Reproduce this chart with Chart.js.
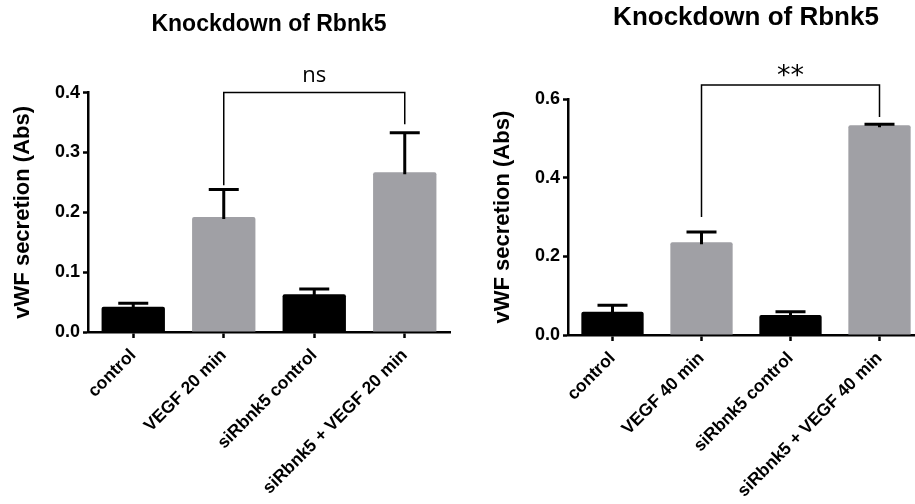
<!DOCTYPE html>
<html>
<head>
<meta charset="utf-8">
<script src="https://cdn.jsdelivr.net/npm/chart.js@4.4.1/dist/chart.umd.min.js"></script>
<style>
  html, body { margin: 0; padding: 0; background: #fff; }
  #wrap { position: relative; width: 915px; height: 504px; overflow: hidden; }
  #c20 { position: absolute; left: 0; top: 0; }
  #c40 { position: absolute; left: 460px; top: 0; }
</style>
</head>
<body>
<div id="wrap">
  <canvas id="c20" width="460" height="504"></canvas>
  <canvas id="c40" width="475" height="504"></canvas>
</div>
<script>
// data
const labels20 = ['control', 'VEGF 20 min', 'siRbnk5 control', 'siRbnk5 + VEGF 20 min'];
const means20 = [0.042, 0.192, 0.063, 0.267];
const sem20 = [0.006, 0.046, 0.009, 0.066];
const ticks20 = [0, 0.1, 0.2, 0.3, 0.4];

const labels40 = ['control', 'VEGF 40 min', 'siRbnk5 control', 'siRbnk5 + VEGF 40 min'];
const means40 = [0.059, 0.236, 0.051, 0.534];
const sem40 = [0.017, 0.026, 0.008, 0.002];
const ticks40 = [0, 0.2, 0.4, 0.6];

const barColors = ['#000000', '#a0a0a5', '#000000', '#a0a0a5'];

// significance bracket: [from bar, to bar, height, left leg end, right leg end, label]
const bracket20 = [1, 3, 0.4, 0.245, 0.347, 'ns'];
const bracket40 = [1, 3, 0.636, 0.300, 0.555, '**'];

const FONT = 'Arial, "Liberation Sans", Helvetica, sans-serif';

// error bars + bracket, drawn through the y scale
const annotate = {
  id: 'annotate',
  afterDatasetsDraw(chart, args, opts) {
    const ctx = chart.ctx;
    const y = chart.scales.y;
    const meta = chart.getDatasetMeta(0);
    const vals = chart.data.datasets[0].data;
    ctx.save();
    ctx.strokeStyle = '#000';
    ctx.lineWidth = 3;
    meta.data.forEach((bar, i) => {
      const top = y.getPixelForValue(vals[i] + opts.errors[i]);
      const base = y.getPixelForValue(vals[i]);
      ctx.beginPath();
      ctx.moveTo(bar.x, base + 2);
      ctx.lineTo(bar.x, top);
      ctx.moveTo(bar.x - 15, top);
      ctx.lineTo(bar.x + 15, top);
      ctx.stroke();
    });

    const [a, b, h, endA, endB, label] = opts.bracket;
    const xa = meta.data[a].x, xb = meta.data[b].x;
    const yh = y.getPixelForValue(h);
    ctx.lineWidth = 1.5;
    ctx.beginPath();
    ctx.moveTo(xa, y.getPixelForValue(endA));
    ctx.lineTo(xa, yh);
    ctx.lineTo(xb, yh);
    ctx.lineTo(xb, y.getPixelForValue(endB));
    ctx.stroke();

    ctx.fillStyle = '#000';
    ctx.font = opts.labelFont;
    ctx.textAlign = 'center';
    ctx.textBaseline = 'alphabetic';
    ctx.fillText(label, (xa + xb) / 2, yh - opts.labelGap);
    ctx.restore();
  }
};

function makeChart(id, cfg) {
  return new Chart(document.getElementById(id), {
    type: 'bar',
    data: {
      labels: cfg.labels,
      datasets: [{
        data: cfg.means,
        backgroundColor: barColors,
        borderRadius: 2,
        barPercentage: 0.7,
        categoryPercentage: 1
      }]
    },
    options: {
      responsive: false,
      animation: false,
      layout: { padding: { left: 0, right: cfg.padRight, top: 0, bottom: 0 } },
      plugins: {
        legend: { display: false },
        tooltip: { enabled: false },
        title: {
          display: true,
          text: 'Knockdown of Rbnk5',
          color: '#000',
          fullSize: false,
          font: { family: FONT, size: cfg.titleSize, weight: 'bold' },
          padding: cfg.titlePad
        },
        annotate: {
          errors: cfg.errors,
          bracket: cfg.bracket,
          labelFont: cfg.labelFont,
          labelGap: cfg.labelGap
        }
      },
      scales: {
        x: {
          afterFit: s => { s.height = cfg.xHeight; },
          grid: { offset: false, drawOnChartArea: false, tickLength: 6, tickWidth: 2.5, tickColor: '#000' },
          border: { color: '#000', width: 2.5 },
          ticks: {
            autoSkip: false, minRotation: 45, maxRotation: 45, padding: 7,
            color: '#000', font: { family: FONT, size: 17.5, weight: 'bold' }
          }
        },
        y: {
          min: 0,
          max: cfg.ticks[cfg.ticks.length - 1],
          afterFit: s => { s.width = cfg.yWidth; },
          afterBuildTicks: s => { s.ticks = cfg.ticks.map(v => ({ value: v })); },
          grid: { drawOnChartArea: false, tickLength: 5, tickWidth: 2.5, tickColor: '#000' },
          border: { color: '#000', width: 2.5 },
          ticks: {
            padding: 3, color: '#000',
            font: { family: FONT, size: 18, weight: 'bold' },
            callback: v => Number(v).toFixed(1)
          },
          title: {
            display: true,
            text: 'vWF secretion (Abs)',
            color: '#000',
            font: { family: FONT, size: 22, weight: 'bold' },
            padding: { top: cfg.yTitlePad, bottom: 0 }
          }
        }
      }
    },
    plugins: [annotate]
  });
}

makeChart('c20', {
  labels: labels20, means: means20, errors: sem20, ticks: ticks20, bracket: bracket20,
  padRight: 10, titleSize: 23, titlePad: { top: 11, bottom: 54 },
  xHeight: 172, yWidth: 88, yTitlePad: 10,
  labelFont: '22px "Open Sans", sans-serif', labelGap: 11
});

makeChart('c40', {
  labels: labels40, means: means40, errors: sem40, ticks: ticks40, bracket: bracket40,
  padRight: 11, titleSize: 26, titlePad: { top: 2, bottom: 66 },
  xHeight: 169, yWidth: 108, yTitlePad: 30,
  labelFont: '27px "DejaVu Sans", sans-serif', labelGap: 1
});
</script>
</body>
</html>
